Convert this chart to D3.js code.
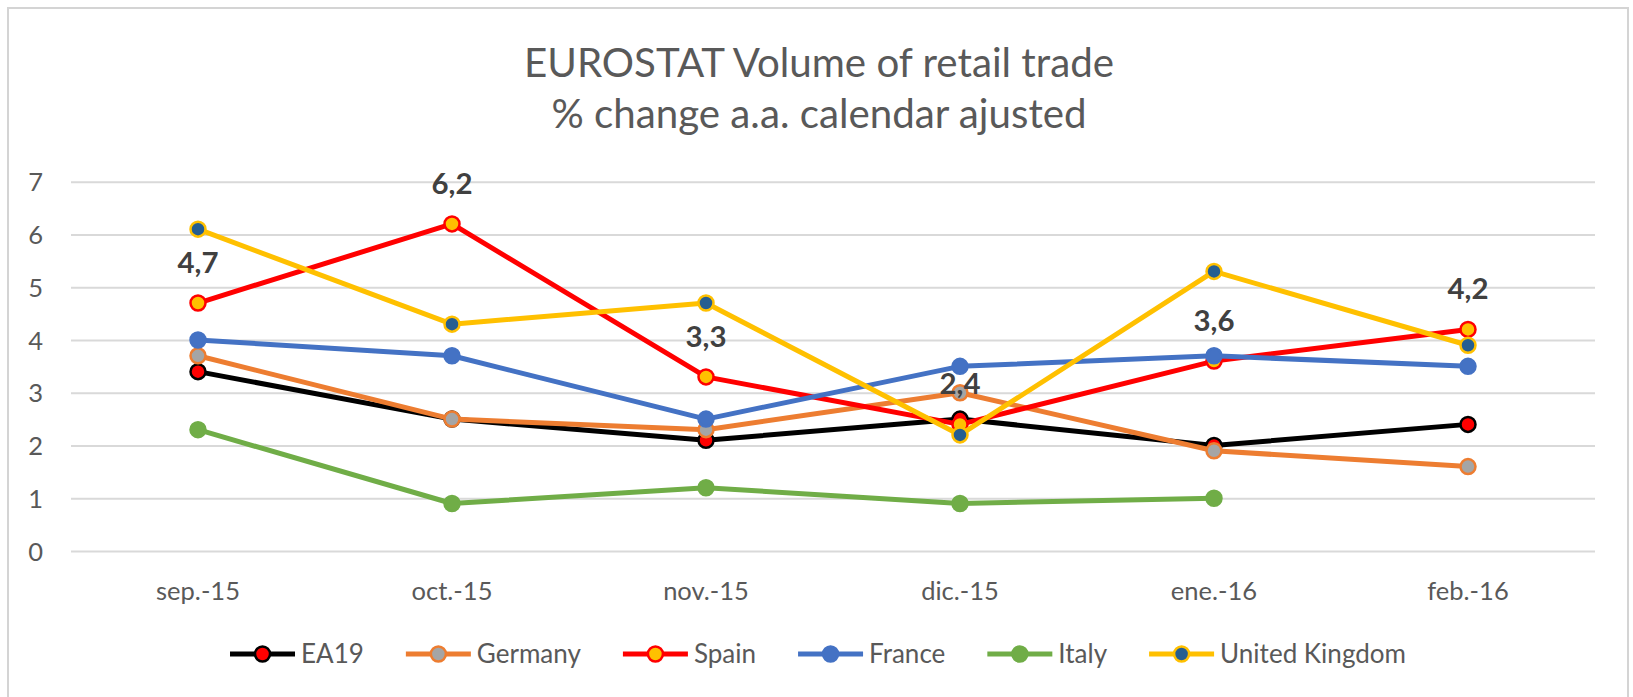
<!DOCTYPE html>
<html>
<head>
<meta charset="utf-8">
<script src="https://cdn.jsdelivr.net/npm/d3@7"></script>
<style>
  body { margin: 0; background: #fff; }
  svg { display: block; }
</style>
</head>
<body>
<div id="chart"></div>
<script>
// data
const months = ["sep.-15", "oct.-15", "nov.-15", "dic.-15", "ene.-16", "feb.-16"];
const ea19 = [3.4, 2.5, 2.1, 2.5, 2.0, 2.4];
const germany = [3.7, 2.5, 2.3, 3.0, 1.9, 1.6];
const spain = [4.7, 6.2, 3.3, 2.4, 3.6, 4.2];
const france = [4.0, 3.7, 2.5, 3.5, 3.7, 3.5];
const italy = [2.3, 0.9, 1.2, 0.9, 1.0, null];
const uk = [6.1, 4.3, 4.7, 2.2, 5.3, 3.9];
const yTicks = [0, 1, 2, 3, 4, 5, 6, 7];
const titleLines = ["EUROSTAT Volume of retail trade", "% change a.a. calendar ajusted"];

const series = [
    {name: "EA19", values: ea19, line: "#000000", fill: "#ff0000", stroke: "#000000"},
    {name: "Germany", values: germany, line: "#ed7d31", fill: "#a5a5a5", stroke: "#ed7d31"},
    {name: "Spain", values: spain, line: "#ff0000", fill: "#ffc000", stroke: "#ff0000", labels: true},
    {name: "France", values: france, line: "#4472c4", fill: "#4472c4", stroke: "#4472c4"},
    {name: "Italy", values: italy, line: "#70ad47", fill: "#70ad47", stroke: "#70ad47"},
    {name: "United Kingdom", values: uk, line: "#ffc000", fill: "#255e91", stroke: "#ffc000"}
];

const FONT = "Lato, 'Open Sans', sans-serif";
const width = 1633, height = 697;

let svg = d3.select("#chart").append("svg")
    .attr("width", width)
    .attr("height", height);

// font size that makes a string a given width
function fitSize(text, weight, target) {
    let t = svg.append("text")
        .attr("font-family", FONT)
        .attr("font-weight", weight)
        .attr("font-size", 100)
        .text(text);
    let w = t.node().getComputedTextLength();
    t.remove();
    return 100 * target / w;
}

// chart frame
svg.append("rect")
    .attr("x", 8).attr("y", 8)
    .attr("width", 1620).attr("height", 700)
    .attr("fill", "#fff")
    .attr("stroke", "#d4d4d4")
    .attr("stroke-width", 2);

// title
let titleSize = fitSize(titleLines[0], 400, 590);
svg.selectAll(".title")
    .data(titleLines)
    .join("text")
    .attr("class", "title")
    .attr("x", 819)
    .attr("y", (d, i) => i === 0 ? 77 : 128)
    .attr("text-anchor", "middle")
    .attr("font-family", FONT)
    .attr("font-size", titleSize)
    .attr("fill", "#595959")
    .text(d => d);

let x = d3.scaleBand()
    .domain(months)
    .range([71, 1595]);

let y = d3.scaleLinear()
    .domain([0, 7])
    .range([551, 181.7]);

let cx = d => x(d) + x.bandwidth() / 2;

// grid lines
let axisSize = fitSize("sep.-15", 400, 84);
let yAxis = svg.append("g")
    .attr("transform", "translate(71,0)")
    .call(d3.axisLeft(y).tickValues(yTicks).tickSize(-1524).tickPadding(28).tickFormat(d3.format("d")));
yAxis.select(".domain").remove();
yAxis.selectAll(".tick line").attr("stroke", "#d9d9d9").attr("stroke-width", 2);
yAxis.selectAll(".tick text")
    .attr("font-family", FONT)
    .attr("font-size", axisSize)
    .attr("fill", "#595959")
    .attr("dy", "0.36em");

// x axis labels
let xAxis = svg.append("g")
    .attr("transform", "translate(0,551)")
    .call(d3.axisBottom(x).tickSize(0).tickPadding(0));
xAxis.select(".domain").remove();
xAxis.selectAll(".tick text")
    .attr("font-family", FONT)
    .attr("font-size", axisSize)
    .attr("fill", "#595959")
    .attr("dy", 0)
    .attr("y", 49);

// lines and markers
let line = d3.line()
    .defined(d => d.v !== null)
    .x(d => cx(d.m))
    .y(d => y(d.v));

series.forEach(s => {
    let pts = s.values.map((v, i) => ({m: months[i], v: v}));
    let g = svg.append("g");
    g.append("path")
        .datum(pts)
        .attr("d", line)
        .attr("fill", "none")
        .attr("stroke", s.line)
        .attr("stroke-width", 5)
        .attr("stroke-linejoin", "round");
    g.selectAll("circle")
        .data(pts.filter(d => d.v !== null))
        .join("circle")
        .attr("cx", d => cx(d.m))
        .attr("cy", d => y(d.v))
        .attr("r", 7.5)
        .attr("fill", s.fill)
        .attr("stroke", s.stroke)
        .attr("stroke-width", 2.5);
});

// data labels for Spain
let labelSize = fitSize("4,7", 700, 41);
let spainSeries = series.find(s => s.labels);
svg.append("g")
    .selectAll("text")
    .data(spainSeries.values.map((v, i) => ({m: months[i], v: v})))
    .join("text")
    .attr("x", d => cx(d.m))
    .attr("y", d => y(d.v) - 30)
    .attr("text-anchor", "middle")
    .attr("font-family", FONT)
    .attr("font-weight", 700)
    .attr("font-size", labelSize)
    .attr("fill", "#404040")
    .text(d => d3.format(".1f")(d.v).replace(".", ","));

// legend
let legendSize = fitSize("United Kingdom", 400, 186);
let legend = svg.append("g");
let lx = 0;
series.forEach(s => {
    let item = legend.append("g").attr("transform", `translate(${lx},0)`);
    item.append("line")
        .attr("x1", 0).attr("x2", 65)
        .attr("y1", 0).attr("y2", 0)
        .attr("stroke", s.line)
        .attr("stroke-width", 5);
    item.append("circle")
        .attr("cx", 32.5).attr("cy", 0)
        .attr("r", 7.5)
        .attr("fill", s.fill)
        .attr("stroke", s.stroke)
        .attr("stroke-width", 2.5);
    let t = item.append("text")
        .attr("x", 71)
        .attr("y", 0)
        .attr("dy", "0.36em")
        .attr("font-family", FONT)
        .attr("font-size", legendSize)
        .attr("fill", "#595959")
        .text(s.name);
    lx += 71 + t.node().getComputedTextLength() + 42;
});
let legendWidth = lx - 42;
legend.attr("transform", `translate(${818 - legendWidth / 2},654)`);
</script>
</body>
</html>
